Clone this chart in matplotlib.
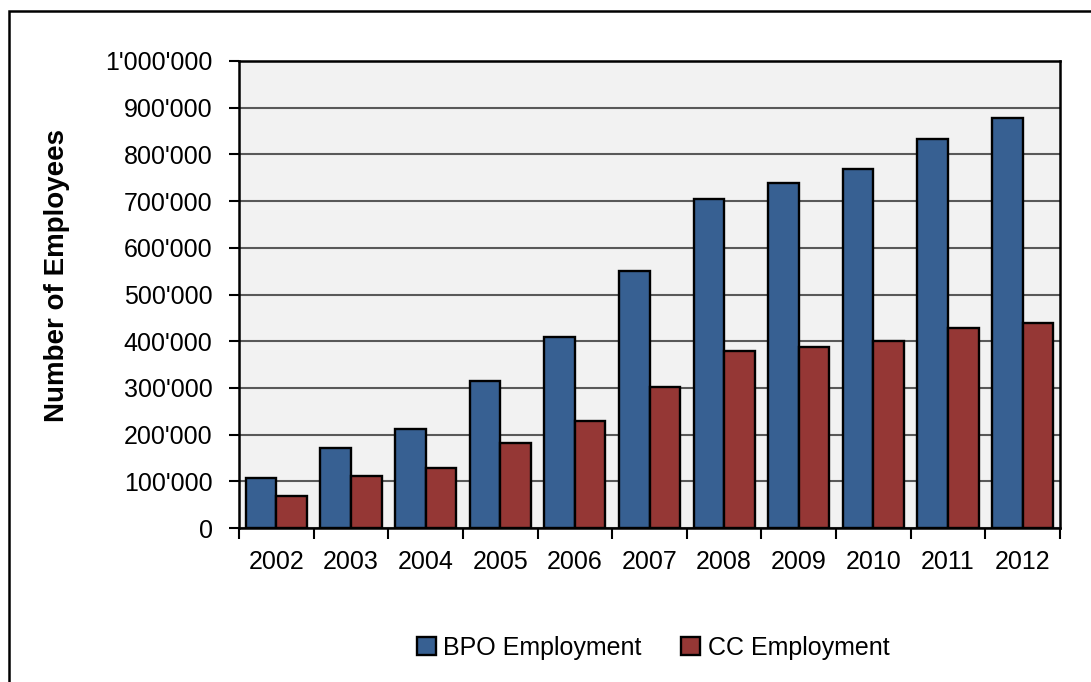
import matplotlib
matplotlib.use('Agg')
import matplotlib.pyplot as plt
import matplotlib.ticker as mticker
from matplotlib.patches import Rectangle
import numpy as np

plt.rcParams['font.family'] = ['Liberation Sans Narrow', 'Liberation Sans', 'DejaVu Sans']

years = ['2002', '2003', '2004', '2005', '2006', '2007', '2008', '2009', '2010', '2011', '2012']
bpo = [106000, 171000, 213000, 315000, 410000, 551000, 704000, 739000, 769000, 833000, 879000]
cc = [68000, 111000, 128000, 183000, 230000, 302000, 380000, 388000, 401000, 428000, 440000]

W, H = 1091, 682
fig = plt.figure(figsize=(W / 100, H / 100), dpi=100)
ax = fig.add_axes([239 / W, 1 - 528 / H, (1060 - 239) / W, (528 - 61) / H])
ax.set_facecolor('#F2F2F2')

x = np.arange(len(years))
w = 0.41
ax.bar(x - w / 2, bpo, w, color='#376092', edgecolor='black', linewidth=1.7,
       label='BPO Employment', zorder=3)
ax.bar(x + w / 2, cc, w, color='#953735', edgecolor='black', linewidth=1.7,
       label='CC Employment', zorder=3)

ax.set_xlim(-0.5, len(years) - 0.5)
ax.set_ylim(0, 1000000)
ax.set_yticks(np.arange(0, 1000001, 100000))
ax.yaxis.set_major_formatter(mticker.FuncFormatter(lambda v, p: '0' if v == 0 else "{:,}".format(int(v)).replace(',', "'")))
ax.grid(axis='y', color='#595959', linewidth=1.5, zorder=1)

ax.set_xticks(x)
ax.set_xticklabels(years)
ax.set_xticks(np.arange(-0.5, len(years), 1), minor=True)
ax.tick_params(axis='x', which='major', length=0, pad=16, labelsize=18)
ax.tick_params(axis='x', which='minor', length=8, width=1.5, direction='out')
ax.tick_params(axis='y', length=7, width=1.5, direction='out', pad=12, labelsize=18)

for s in ax.spines.values():
    s.set_linewidth(1.8)
    s.set_color('black')

fig.text(57 / W, 1 - 275 / H, 'Number of Employees', rotation=90, ha='center', va='center',
         fontsize=20, fontweight='bold', family=['Liberation Sans', 'DejaVu Sans'])

leg = fig.legend(loc='center', bbox_to_anchor=(653 / W, 1 - 648 / H), ncol=2, frameon=False,
                 fontsize=18, handlelength=0.75, handleheight=0.75, handletextpad=0.3,
                 columnspacing=1.6)

# outer chart frame
fig.patches.append(Rectangle((9 / W, -0.1), 1.2, 1 - 11 / H + 0.1, transform=fig.transFigure,
                             fill=False, edgecolor='black', linewidth=1.8, clip_on=False))

fig.savefig('out.png', dpi=100)
